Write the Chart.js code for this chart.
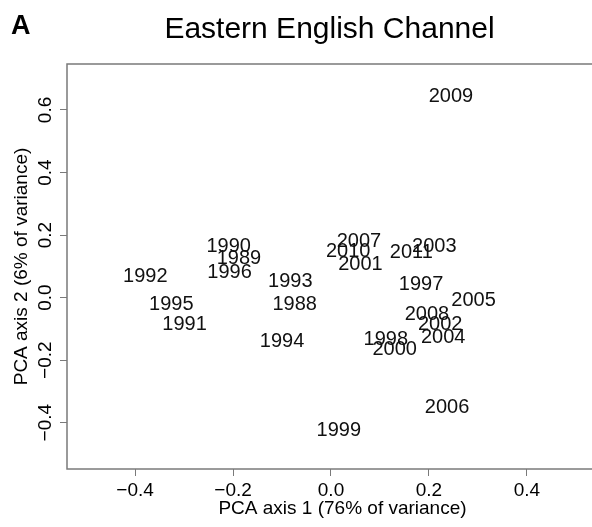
<!DOCTYPE html>
<html>
<head>
<meta charset="utf-8">
<script src="https://cdn.jsdelivr.net/npm/chart.js@4/dist/chart.umd.min.js"></script>
<style>
  html, body { margin: 0; padding: 0; background: #fff; overflow: hidden; }
  #wrap { width: 625px; height: 527px; }
</style>
</head>
<body>
<div id="wrap"><canvas id="pcaChart" width="625" height="527"></canvas></div>
<script>
// years and their PCA scores
const years = ["1988", "1989", "1990", "1991", "1992", "1993", "1994", "1995", "1996", "1997",
  "1998", "1999", "2000", "2001", "2002", "2003", "2004", "2005", "2006", "2007",
  "2008", "2009", "2010", "2011"];
const pc1 = [-0.074, -0.188, -0.209, -0.299, -0.379, -0.083, -0.100, -0.326, -0.207, 0.184,
  0.112, 0.016, 0.130, 0.060, 0.223, 0.211, 0.229, 0.291, 0.237, 0.057,
  0.196, 0.245, 0.035, 0.164];
const pc2 = [-0.022, 0.124, 0.162, -0.085, 0.069, 0.051, -0.139, -0.021, 0.080, 0.041,
  -0.135, -0.426, -0.166, 0.107, -0.087, 0.162, -0.126, -0.010, -0.350, 0.179,
  -0.055, 0.643, 0.147, 0.144];
const xTicks = [-0.4, -0.2, 0.0, 0.2, 0.4];
const yTicks = [-0.4, -0.2, 0.0, 0.2, 0.4, 0.6];

const FONT = "'Liberation Sans', Arial, Helvetica, sans-serif";
const AXIS_GREY = "#7a7a7a";

function fmt(v) {
  return v.toFixed(1).replace("-", "\u2212");
}

const boxAndLabels = {
  id: "boxAndLabels",
  afterDatasetsDraw(chart) {
    const ctx = chart.ctx;
    const area = chart.chartArea;
    ctx.save();
    ctx.strokeStyle = AXIS_GREY;
    ctx.lineWidth = 1.5;
    ctx.strokeRect(area.left, area.top, area.right - area.left, area.bottom - area.top);

    // year labels sit on the point positions
    ctx.fillStyle = "#111";
    ctx.font = "20px " + FONT;
    ctx.textAlign = "center";
    ctx.textBaseline = "middle";
    const meta = chart.getDatasetMeta(0);
    meta.data.forEach((pt, i) => {
      ctx.fillText(years[i], pt.x, pt.y);
    });

    // titles
    ctx.fillStyle = "#000";
    ctx.textBaseline = "alphabetic";
    ctx.font = "30px " + FONT;
    ctx.fillText("Eastern English Channel", (area.left + area.right) / 2 - 13, 38);
    ctx.textAlign = "left";
    ctx.font = "bold 27px " + FONT;
    ctx.fillText("A", 11, 34);
    ctx.restore();
  }
};

new Chart(document.getElementById("pcaChart"), {
  type: "scatter",
  data: {
    datasets: [{
      data: pc1.map((x, i) => ({ x: x, y: pc2[i] })),
      pointRadius: 0,
      pointHoverRadius: 0,
      showLine: false
    }]
  },
  options: {
    responsive: false,
    animation: false,
    events: [],
    layout: { padding: { top: 64, right: 7, bottom: 0, left: 0 } },
    plugins: {
      legend: { display: false },
      tooltip: { enabled: false }
    },
    scales: {
      x: {
        type: "linear",
        min: -0.539,
        max: 0.586,
        afterBuildTicks: (s) => { s.ticks = xTicks.map(v => ({ value: v })); },
        afterFit: (s) => { s.height = 58; },
        border: { display: false },
        grid: { drawOnChartArea: false, drawTicks: true, tickLength: 7, color: AXIS_GREY, lineWidth: 1 },
        ticks: {
          color: "#000",
          font: { family: FONT, size: 19 },
          padding: 3,
          maxRotation: 0,
          callback: (v) => fmt(v)
        },
        title: {
          display: true,
          text: "PCA axis 1 (76% of variance)",
          color: "#000",
          font: { family: FONT, size: 19 },
          padding: { top: 0, bottom: 7 }
        }
      },
      y: {
        type: "linear",
        min: -0.548,
        max: 0.747,
        afterBuildTicks: (s) => { s.ticks = yTicks.map(v => ({ value: v })); },
        afterFit: (s) => { s.width = 67; },
        border: { display: false },
        grid: { drawOnChartArea: false, drawTicks: true, tickLength: 7, color: AXIS_GREY, lineWidth: 1 },
        ticks: {
          color: "#000",
          font: { family: FONT, size: 19 },
          padding: -5,
          minRotation: 90,
          maxRotation: 90,
          crossAlign: "center",
          callback: (v) => fmt(v)
        },
        title: {
          display: true,
          text: "PCA axis 2 (6% of variance)",
          color: "#000",
          font: { family: FONT, size: 19 },
          padding: { top: 10, bottom: 0 }
        }
      }
    }
  },
  plugins: [boxAndLabels]
});
</script>
</body>
</html>
